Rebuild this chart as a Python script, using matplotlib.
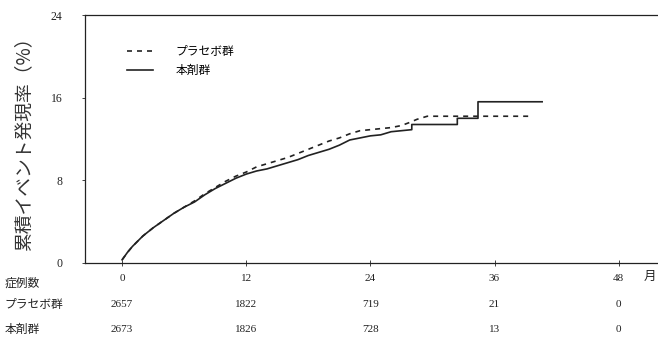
import matplotlib
matplotlib.use("Agg")
import matplotlib.pyplot as plt

plt.rcParams['font.family'] = ['Noto Sans CJK JP', 'DejaVu Sans']

# --- data (months, cumulative event rate %) ---
months_placebo = [0, 0.5, 1, 1.5, 2, 3, 4, 5, 6, 7, 8, 9, 10, 11, 12, 13, 14, 15,
                  16, 17, 18, 19, 20, 21, 22, 23, 24, 25, 26, 27, 27.8, 28.5, 29.5, 39.6]
rate_placebo = [0.3, 1.0, 1.6, 2.1, 2.6, 3.4, 4.1, 4.8, 5.4, 6.0, 6.7, 7.3, 7.9, 8.4,
                8.8, 9.3, 9.6, 9.9, 10.2, 10.6, 11.0, 11.4, 11.8, 12.1, 12.5, 12.8,
                12.9, 13.0, 13.1, 13.3, 13.6, 13.9, 14.2, 14.2]

months_drug = [0, 0.5, 1, 1.5, 2, 3, 4, 5, 6, 7, 8, 9, 10, 11, 12, 13, 14, 15, 16,
               17, 18, 19, 20, 21, 22, 23, 24, 25, 26, 27, 28, 28, 32.4, 32.4,
               34.4, 34.4, 40.6]
rate_drug = [0.3, 1.0, 1.6, 2.1, 2.6, 3.4, 4.1, 4.8, 5.4, 5.9, 6.6, 7.2, 7.7, 8.2,
             8.6, 8.9, 9.1, 9.4, 9.7, 10.0, 10.4, 10.7, 11.0, 11.4, 11.9, 12.1, 12.3,
             12.4, 12.7, 12.8, 12.9, 13.4, 13.4, 14.0, 14.0, 15.6, 15.6]

x_ticks = [0, 12, 24, 36, 48]
y_ticks = [0, 8, 16, 24]
at_risk_placebo = [2657, 1822, 719, 21, 0]
at_risk_drug = [2673, 1826, 728, 13, 0]

label_placebo = "プラセボ群"
label_drug = "本剤群"
label_risk = "症例数"
y_label = "累積イベント発現率（%）"
x_unit = "月"

serif = ['Liberation Serif', 'DejaVu Serif']
ink = '#222222'

fig = plt.figure(figsize=(6.58, 3.41), dpi=100)
ax = fig.add_axes([0.129, 0.229, 0.871, 0.727])

ax.plot(months_placebo, rate_placebo, color=ink, lw=1.2, linestyle=(0, (3, 3)),
        label=label_placebo)
ax.plot(months_drug, rate_drug, color=ink, lw=1.2, label=label_drug)

ax.set_xlim(-3.6, 51.8)
ax.set_ylim(0, 24)
ax.set_xticks(x_ticks)
ax.set_yticks(y_ticks)
ax.set_xticklabels([str(v) for v in x_ticks], family=serif, fontsize=8)
ax.set_yticklabels([str(v) for v in y_ticks], family=serif, fontsize=8.5)
ax.tick_params(axis='x', direction='inout', length=4, width=0.6, pad=6, colors=ink)
ax.tick_params(axis='y', direction='out', length=2, width=0.6, pad=14, colors=ink)
ax.spines['right'].set_visible(False)
for s in ['left', 'top', 'bottom']:
    ax.spines[s].set_linewidth(0.9)
    ax.spines[s].set_color(ink)

ax.set_ylabel(y_label, fontsize=13.5, color='#333333')
ax.yaxis.set_label_coords(-0.088, 0.5)

ax.legend(loc='upper left', bbox_to_anchor=(0.055, 0.92), frameon=False,
          fontsize=8.5, handlelength=2.2, handletextpad=1.9, labelspacing=0.5)

# unit label at right end of the x axis
ax.text(0.975, -0.056, x_unit, transform=ax.transAxes, fontsize=9, ha='left',
        va='center', color=ink, clip_on=False)

# number-at-risk table
row_y = [-0.081, -0.169, -0.27]
for yy, txt in zip(row_y, [label_risk, label_placebo, label_drug]):
    ax.text(-0.14, yy, txt, transform=ax.transAxes, fontsize=8.5,
            ha='left', va='center', color=ink)
trans = ax.get_xaxis_transform()
for xv, a, b in zip(x_ticks, at_risk_placebo, at_risk_drug):
    ax.text(xv, row_y[1], str(a), transform=trans, ha='center', va='center',
            family=serif, fontsize=8, color=ink, clip_on=False)
    ax.text(xv, row_y[2], str(b), transform=trans, ha='center', va='center',
            family=serif, fontsize=8, color=ink, clip_on=False)

fig.savefig("out.png", dpi=100)
